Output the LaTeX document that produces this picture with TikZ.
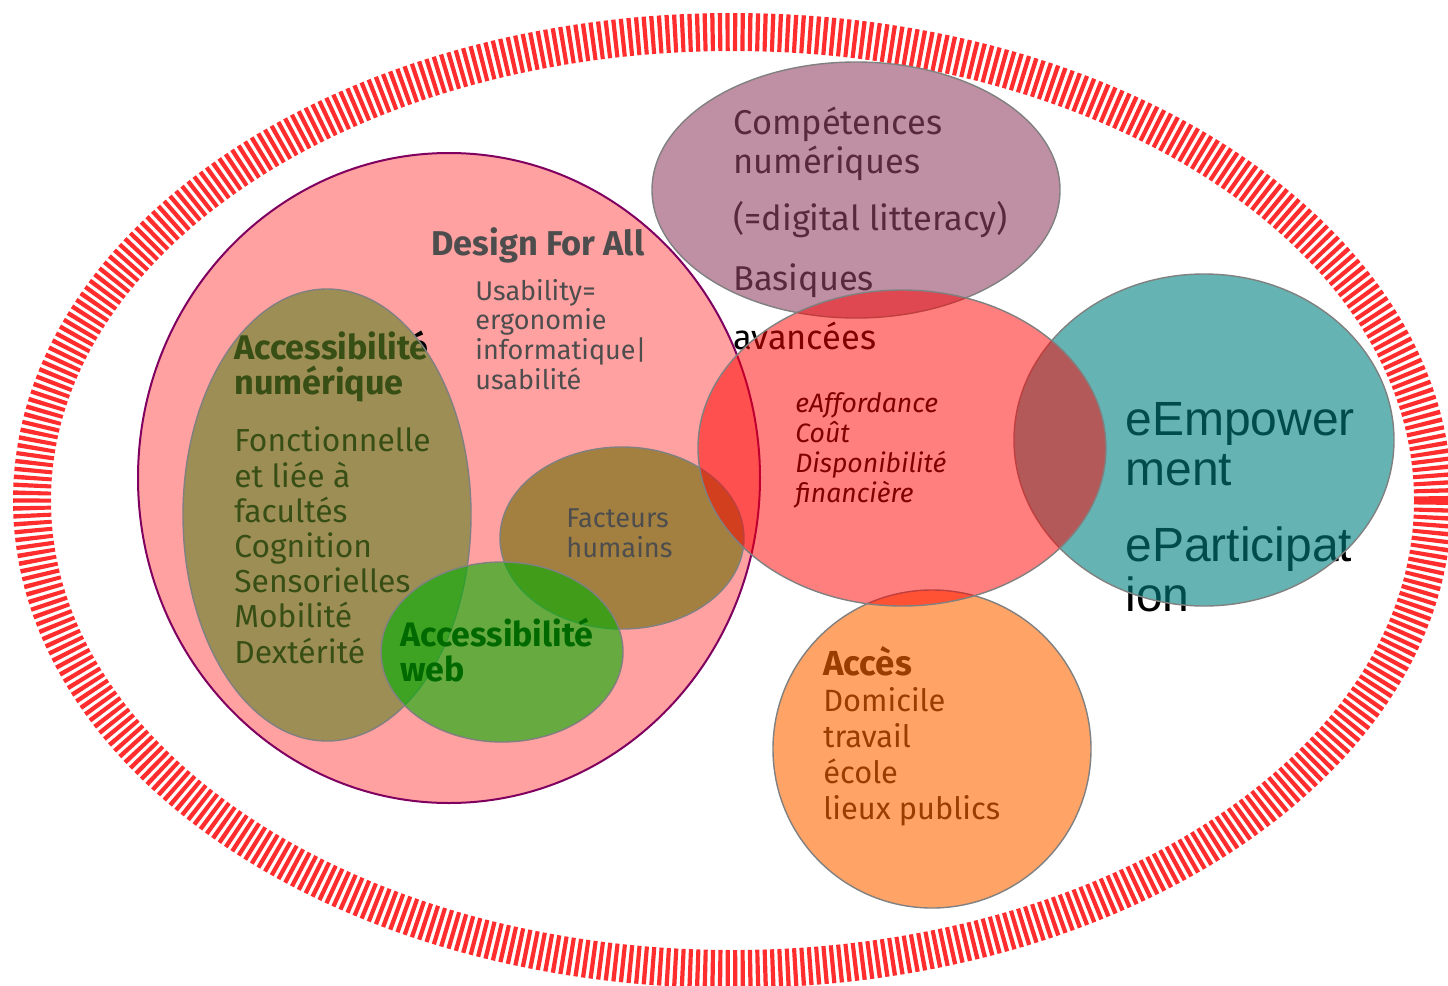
\documentclass[tikz,border=0pt]{standalone}
\usepackage{fontspec}
\setmainfont{Fira Sans}
\newfontfamily\arialfont{Liberation Sans}

\definecolor{ringred}{RGB}{255,45,45}
\definecolor{edgegray}{RGB}{128,128,128}
\definecolor{dfaedge}{RGB}{128,0,96}
\definecolor{dfapink}{RGB}{255,161,161}
\definecolor{numolive}{RGB}{93,130,35}
\definecolor{facbrown}{RGB}{163,128,64}
\definecolor{webgreen}{RGB}{0,177,0}
\definecolor{comppurple}{RGB}{148,69,102}
\definecolor{accorange}{RGB}{255,102,0}
\definecolor{empteal}{RGB}{0,128,128}
\definecolor{affred}{RGB}{255,0,0}
\definecolor{txtgray}{RGB}{77,77,77}

\begin{document}
\begin{tikzpicture}
		[x=0.5pt,y=-0.5pt,
		ring/.style={draw=ringred,line width=19pt,dash pattern=on 2.1pt off 1.65pt},
		blob/.style={draw=edgegray,line width=0.7pt},
		txt/.style={anchor=base west,inner sep=0pt,align=left}]
		
		\useasboundingbox (0,0) rectangle (1448,986);
		
		% anneau exterieur
		\draw[ring] (732.5,500.5) ellipse [x radius=700.5,y radius=468.5];
		
		% Design For All
		\draw[fill=dfapink,draw=dfaedge,line width=1pt] (449,478) ellipse [x radius=311,y radius=325];
		
		% textes sous les formes (ancre = derniere ligne)
		\node[txt,font=\fontsize{15.9}{17.6}\selectfont] (num) at (234,663)
		{{\fontsize{17.1}{17.6}\selectfont\bfseries Accessibilité}\\{\fontsize{17.1}{17.6}\selectfont\bfseries numérique}\\[11pt]Fonctionnelle\\et liée à\\facultés\\Cognition\\Sensorielles\\Mobilité\\Dextérité};
		
		% Accessibilite numerique
		\draw[blob,fill=numolive,fill opacity=0.6] (327,515) ellipse [x radius=144,y radius=226];
		
		% Facteurs humains
		\draw[blob,fill=facbrown] (622,538) ellipse [x radius=122,y radius=91];
		
		\node[txt,font=\bfseries\fontsize{17}{17.5}\selectfont] (web) at (400,681) {Accessibilité\\web};
		
		% Accessibilite web
		\draw[blob,fill=webgreen,fill opacity=0.6] (502,652) ellipse [x radius=121,y radius=90];
		
		\node[txt,font=\fontsize{17.2}{19.25}\selectfont] (comp) at (733,349)
		{Compétences\\numériques\\[9.25pt](=digital litteracy)\\[10.75pt]Basiques\\[10.25pt]avancées};
		\node[txt,font=\itshape\fontsize{13.3}{14.85}\selectfont] (aff) at (795,502)
		{eAffordance\\Coût\\Disponibilité\\financière};
		\node[txt,font=\fontsize{15.4}{17.9}\selectfont] (acces) at (823,819)
		{{\fontsize{17.4}{17.9}\selectfont\bfseries Accès}\\Domicile\\travail\\école\\lieux publics};
		\node[txt,font=\arialfont\fontsize{24}{25}\selectfont] (emp) at (1125,611)
		{eEmpower\\ment\\[13pt]eParticipat\\ion};
		
		% cercles transparents
		\draw[blob,fill=comppurple,fill opacity=0.6] (856,190) ellipse [x radius=204,y radius=128];
		\draw[blob,fill=accorange,fill opacity=0.6] (932,749) ellipse [x radius=159,y radius=159];
		\draw[blob,fill=empteal,fill opacity=0.6] (1204,440) ellipse [x radius=190,y radius=166];
		\draw[blob,fill=affred,fill opacity=0.5] (902,448) ellipse [x radius=204,y radius=158];
		
		% textes gris au dessus
		\node[txt,text=txtgray,font=\bfseries\fontsize{17.2}{18}\selectfont] (dfa) at (431,255) {Design For All};
		\node[txt,text=txtgray,font=\fontsize{13.5}{14.8}\selectfont] (usab) at (475,389)
		{Usability=\\ergonomie\\informatique|\\usabilité};
		\node[txt,text=txtgray,font=\fontsize{13.6}{15}\selectfont] (fac) at (566,557) {Facteurs\\humains};
		
	\end{tikzpicture}
\end{document}
